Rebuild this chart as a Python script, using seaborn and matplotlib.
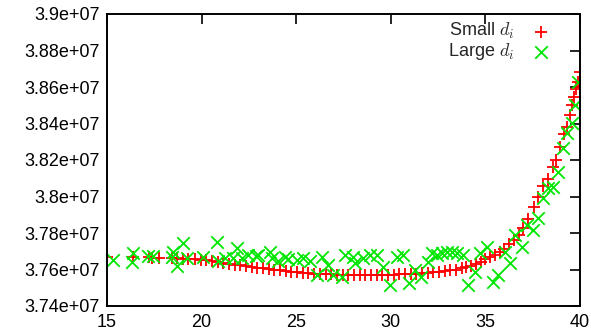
import numpy as np
import pandas as pd
import seaborn as sns
import matplotlib
matplotlib.use('Agg')
import matplotlib.pyplot as plt
from matplotlib.ticker import FuncFormatter, MultipleLocator

# red series: "Small d_i"
small_x = [15.0, 16.35, 17.2, 17.4, 17.75, 18.45, 18.7, 19.0, 19.3, 19.65,
           19.95, 20.25, 20.55, 20.85, 21.15, 21.45, 21.75, 22.05, 22.35, 22.65,
           22.95, 23.25, 23.55, 23.85, 24.15, 24.45, 24.75, 25.05, 25.35, 25.65,
           25.95, 26.25, 26.55, 26.85, 27.15, 27.45, 27.75, 28.05, 28.35, 28.65,
           28.95, 29.25, 29.55, 29.85, 30.15, 30.45, 30.75, 31.05, 31.35, 31.65,
           31.95, 32.25, 32.55, 32.85, 33.15, 33.45, 33.75, 34.0, 34.25, 34.5,
           34.75, 35.0, 35.25, 35.5, 35.75, 36.0, 36.25, 36.5, 36.75, 37.0,
           37.25, 37.55, 37.8, 38.05, 38.3, 38.55, 38.75, 38.95, 39.15, 39.3,
           39.45, 39.6, 39.7, 39.8, 39.9, 40.0]
small_y = [3.7670e7, 3.7668e7, 3.7666e7, 3.7665e7, 3.7664e7, 3.7662e7, 3.7661e7, 3.7660e7, 3.7658e7, 3.7656e7,
           3.7653e7, 3.7650e7, 3.7647e7, 3.7643e7, 3.7637e7, 3.7631e7, 3.7626e7, 3.7622e7, 3.7618e7, 3.7614e7,
           3.7610e7, 3.7606e7, 3.7602e7, 3.7598e7, 3.7595e7, 3.7592e7, 3.7589e7, 3.7586e7, 3.7583e7, 3.7580e7,
           3.7578e7, 3.7576e7, 3.7574e7, 3.7573e7, 3.7572e7, 3.7571e7, 3.7571e7, 3.7570e7, 3.7570e7, 3.7570e7,
           3.7570e7, 3.7570e7, 3.7571e7, 3.7571e7, 3.7572e7, 3.7573e7, 3.7574e7, 3.7576e7, 3.7578e7, 3.7580e7,
           3.7583e7, 3.7586e7, 3.7589e7, 3.7592e7, 3.7596e7, 3.7600e7, 3.7606e7, 3.7612e7, 3.7620e7, 3.7630e7,
           3.7643e7, 3.7656e7, 3.7666e7, 3.7680e7, 3.7695e7, 3.7714e7, 3.7737e7, 3.7762e7, 3.7790e7, 3.7828e7,
           3.7875e7, 3.7940e7, 3.7998e7, 3.8060e7, 3.8095e7, 3.8160e7, 3.8200e7, 3.8273e7, 3.8340e7, 3.8380e7,
           3.8445e7, 3.8500e7, 3.8545e7, 3.8590e7, 3.8625e7, 3.8684e7]

# green series: "Large d_i"
large_x = [15.3, 16.39, 16.34, 17.18, 17.45, 18.42, 18.5, 18.68, 19.03, 19.24,
           20.09, 20.8, 20.88, 21.24, 21.68, 21.86, 22.12, 22.47, 22.85, 23.0,
           23.62, 23.7, 24.05, 24.4, 24.58, 25.03, 25.38, 25.73, 26.08, 26.35,
           26.7, 26.96, 27.4, 27.58, 28.02, 28.1, 28.55, 28.9, 29.25, 29.6,
           29.96, 30.31, 30.62, 30.95, 31.28, 31.58, 31.95, 32.16, 32.43, 32.69,
           32.95, 33.22, 33.48, 33.83, 34.1, 34.45, 34.7, 35.07, 35.42, 35.68,
           36.03, 36.3, 36.56, 36.92, 37.18, 37.53, 37.8, 38.06, 38.33, 38.59,
           38.85, 39.12, 39.3, 39.56, 39.73, 39.9]
large_y = [3.7652e7, 3.7689e7, 3.7640e7, 3.7676e7, 3.7672e7, 3.7667e7, 3.7698e7, 3.7620e7, 3.7744e7, 3.7661e7,
           3.7667e7, 3.7752e7, 3.7647e7, 3.7661e7, 3.7661e7, 3.7716e7, 3.7661e7, 3.7680e7, 3.7672e7, 3.7680e7,
           3.7698e7, 3.7661e7, 3.7647e7, 3.7670e7, 3.7658e7, 3.7652e7, 3.7661e7, 3.7647e7, 3.7570e7, 3.7670e7,
           3.7625e7, 3.7570e7, 3.7561e7, 3.7680e7, 3.7670e7, 3.7634e7, 3.7661e7, 3.7680e7, 3.7680e7, 3.7615e7,
           3.7515e7, 3.7670e7, 3.7680e7, 3.7524e7, 3.7597e7, 3.7560e7, 3.7643e7, 3.7689e7, 3.7680e7, 3.7689e7,
           3.7698e7, 3.7698e7, 3.7689e7, 3.7680e7, 3.7515e7, 3.7588e7, 3.7689e7, 3.7725e7, 3.7533e7, 3.7570e7,
           3.7698e7, 3.7634e7, 3.7789e7, 3.7725e7, 3.7844e7, 3.7816e7, 3.7880e7, 3.7990e7, 3.8045e7, 3.8054e7,
           3.8136e7, 3.8264e7, 3.8346e7, 3.8401e7, 3.8500e7, 3.8629e7]

sns.set_theme(style='white')
plt.rcParams['font.family'] = ['Liberation Sans', 'DejaVu Sans']
plt.rcParams['mathtext.fontset'] = 'cm'

fig = plt.figure(figsize=(5.91, 3.33), dpi=100)
ax = fig.add_axes([107 / 591, 27 / 333, 473 / 591, 292 / 333])

small = pd.DataFrame({'x': small_x, 'y': small_y})
large = pd.DataFrame({'x': large_x, 'y': large_y})

sns.scatterplot(data=small, x='x', y='y', marker='+', s=80, color='#ff0000',
                linewidth=1.3, ax=ax, label=r'Small $d_i$')
sns.scatterplot(data=large, x='x', y='y', marker='x', s=80, color='#00e600',
                linewidth=1.3, ax=ax, label=r'Large $d_i$')

ax.set_xlim(15, 40)
ax.set_ylim(3.74e7, 3.9e7)
ax.xaxis.set_major_locator(MultipleLocator(5))
ax.yaxis.set_major_locator(MultipleLocator(2e5))
fmt = FuncFormatter(lambda v, p: '%g' % v)
ax.xaxis.set_major_formatter(fmt)
ax.yaxis.set_major_formatter(fmt)
ax.set_xlabel('')
ax.set_ylabel('')
ax.tick_params(direction='in', top=True, right=True, length=7, width=1.2,
               labelsize=13, colors='black')
ax.tick_params(axis='x', pad=6)
ax.tick_params(axis='y', pad=5)
for sp in ax.spines.values():
    sp.set_color('black')
    sp.set_linewidth(1.4)

ax.legend(loc='upper right', bbox_to_anchor=(0.945, 0.975), markerfirst=False,
          frameon=False, fontsize=13, handlelength=1.4, handletextpad=0.8,
          labelspacing=0.0, borderpad=0, borderaxespad=0)

fig.savefig('out.png', dpi=100)
